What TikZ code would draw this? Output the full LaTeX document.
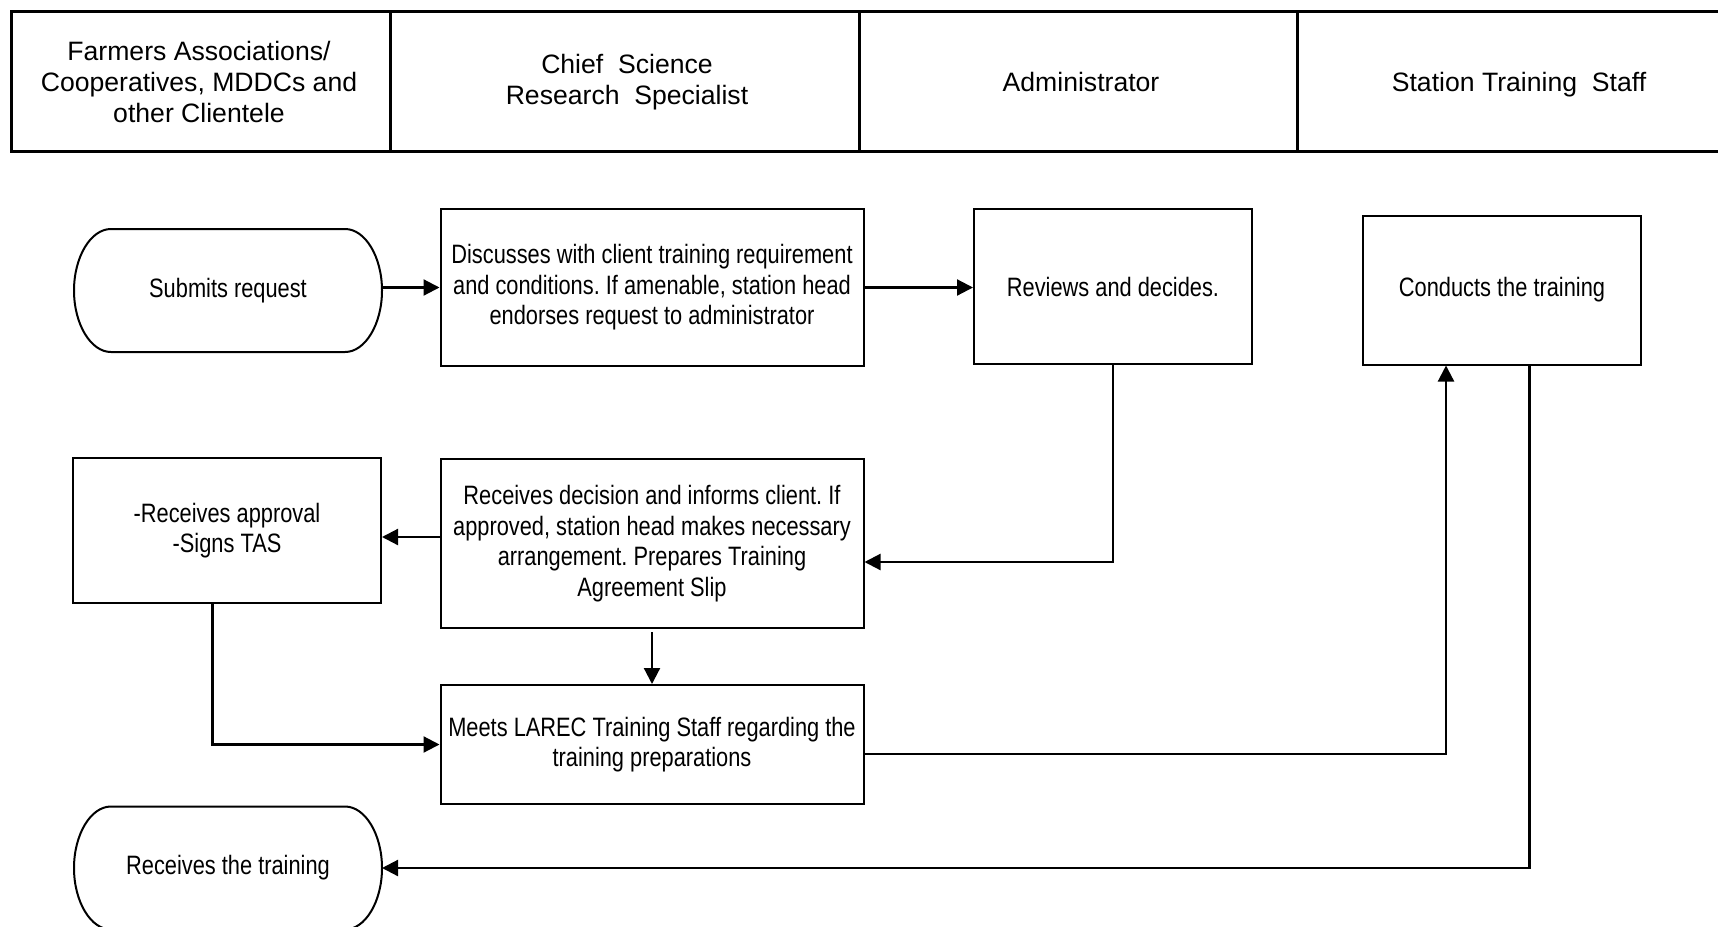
\documentclass[tikz,border=0pt]{standalone}
\usepackage{fontspec}
\setmainfont{Liberation Sans}
\newfontfamily\estrecha{Liberation Sans}[FakeStretch=0.82]
\usetikzlibrary{arrows.meta,calc}
\frenchspacing

\begin{document}
\begin{tikzpicture}[x=0.5pt,y=-0.5pt,
    caja/.style={draw,line width=1pt,align=center,inner sep=2pt,
      font=\estrecha\fontsize{13.3}{15.3}\selectfont},
    terminal/.style={caja,draw=none,minimum width=153pt,minimum height=60.5pt,
      append after command={\pgfextra{\draw[line width=1pt]
        ([xshift=18.5pt]\tikzlastnode.north west) -- ([xshift=-18.5pt]\tikzlastnode.north east)
        .. controls ([xshift=-8.3pt]\tikzlastnode.north east) and ([yshift=16.7pt]\tikzlastnode.east) .. (\tikzlastnode.east)
        .. controls ([yshift=-16.7pt]\tikzlastnode.east) and ([xshift=-8.3pt]\tikzlastnode.south east) .. ([xshift=-18.5pt]\tikzlastnode.south east)
        -- ([xshift=18.5pt]\tikzlastnode.south west)
        .. controls ([xshift=8.3pt]\tikzlastnode.south west) and ([yshift=-16.7pt]\tikzlastnode.west) .. (\tikzlastnode.west)
        .. controls ([yshift=16.7pt]\tikzlastnode.west) and ([xshift=8.3pt]\tikzlastnode.north west) .. cycle;}}},
    carril/.style={align=center,font=\fontsize{13.3}{15.3}\selectfont},
    flecha/.style={line width=1.1pt,-{Triangle[length=8pt,width=8pt]}}]
        % Fija el tamaño del dibujo (mismas proporciones que el original).
        \useasboundingbox (0,0) rectangle (1718,926);
    
        % Dibuja la cabecera con los cuatro carriles.
        \draw[line width=1.5pt] (11,11) rectangle (1730,151);
        \draw[line width=1.5pt] (390,11) -- (390,151);
        \draw[line width=1.5pt] (859,11) -- (859,151);
        \draw[line width=1.5pt] (1297,11) -- (1297,151);
        \node[carril] (c1) at (199,82) {Farmers Associations/\\Cooperatives, MDDCs and\\other Clientele};
        \node[carril] (c2) at (627,82) {Chief\ \ Science\\Research\ \ Specialist};
        \node[carril] (c3) at (1081,82) {Administrator};
        \node[carril] (c4) at (1519,85) {Station Training\ \ Staff};
    
        % Coloca los pasos del proceso.
        \node[terminal] (pide) at (228,290.5) {Submits request};
        \node[caja,minimum width=211.5pt,minimum height=78.5pt] (discute) at (652,287.5)
            {Discusses with client training requirement\\and conditions. If amenable, station head\\endorses request to administrator};
        \node[caja,minimum width=139pt,minimum height=77.5pt] (revisa) at (1113,286.5) {Reviews and decides.};
        \node[caja,minimum width=139pt,minimum height=74.5pt] (dicta) at (1502,290) {Conducts the training};
        \node[caja,minimum width=154pt,minimum height=72.5pt] (aprueba) at (227,530.5) {-Receives approval\\-Signs TAS};
        \node[caja,minimum width=211.5pt,minimum height=84.5pt] (decide) at (652,543.5)
            {Receives decision and informs client. If\\approved, station head makes necessary\\arrangement. Prepares Training\\Agreement Slip};
        \node[caja,minimum width=211.5pt,minimum height=59.5pt] (reune) at (652,744.5)
            {Meets LAREC Training Staff regarding the\\training preparations};
        \node[terminal] (recibe) at (228,868) {Receives the training};
    
        % Une los pasos con flechas.
        \draw[flecha] (pide.east |- discute) -- (discute.west);
        \draw[flecha] (discute) -- (discute -| revisa.west);
        \draw[flecha] (revisa.south) |- ([yshift=-9.25pt]decide.east);
        \draw[flecha] ([yshift=3.25pt]decide.west) -- ([yshift=3.25pt]decide.west -| aprueba.east);
        \draw[flecha] ([yshift=-1.5pt]decide.south) -- (reune.north);
        \draw[flecha] ([xshift=-7.25pt]aprueba.south) |- (reune.west);
        \draw[flecha] ([yshift=-4.75pt]reune.east) -| ([xshift=-28pt]dicta.south);
        \draw[flecha] ([xshift=13.75pt]dicta.south) |- (recibe.east);
    \end{tikzpicture}
\end{document}
